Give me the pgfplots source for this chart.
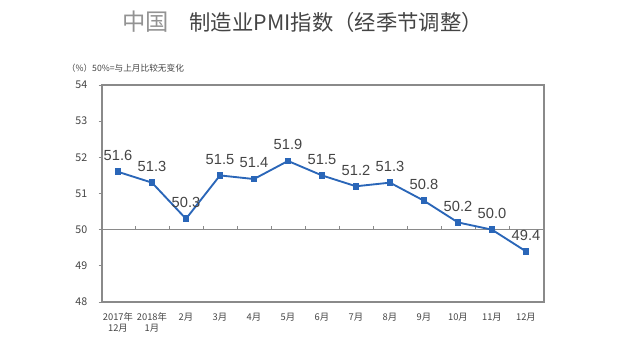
\documentclass[border=0pt]{standalone}
\usepackage{fontspec}
\setmainfont{Liberation Sans}
\newfontfamily\cjk{Noto Sans CJK SC}
\usepackage{pgfplots}
\pgfplotsset{compat=1.18}
\usepackage{pgfplotstable}
\definecolor{pmiblue}{HTML}{2A66B8}
\definecolor{framegray}{HTML}{8A8A8A}
\definecolor{txtgray}{HTML}{444444}
\pgfplotstableread{
x y lab
0 51.6 51.6
1 51.3 51.3
2 50.3 50.3
3 51.5 51.5
4 51.4 51.4
5 51.9 51.9
6 51.5 51.5
7 51.2 51.2
8 51.3 51.3
9 50.8 50.8
10 50.2 50.2
11 50.0 50.0
12 49.4 49.4
}\pmidata
\begin{document}
\begin{tikzpicture}
\path[use as bounding box] (0,0) rectangle (480pt,263.25pt);
\node[anchor=base west, inner sep=0] at (91.5pt,240.5pt)
  {{\cjk\fontsize{17.5}{19}\selectfont\color{gray!85}中国}\hspace{15.5pt}{\cjk\fontsize{16}{18}\selectfont\color{txtgray}制造业PMI指数（经季节调整）}};
\node[anchor=west, inner sep=0] at (50pt,212.25pt)
  {\cjk\fontsize{6.5}{7}\selectfont\color{txtgray}（\%）50\%=与上月比较无变化};
\begin{axis}[
  at={(76.5pt,36.75pt)}, anchor=south west,
  scale only axis, width=331.5pt, height=162.75pt,
  xmin=-0.47, xmax=12.53, ymin=48, ymax=54,
  ytick={48,49,...,54},
  xtick={0,...,12},
  ytick pos=left,
  xticklabels={{2017年\\12月},{2018年\\1月},2月,3月,4月,5月,6月,7月,8月,9月,10月,11月,12月},
  x tick label style={font=\cjk\fontsize{7}{8.5}\selectfont\color{txtgray}, align=center, anchor=north, yshift=-2pt},
  y tick label style={font=\cjk\fontsize{8}{9}\selectfont\color{txtgray}},
  /pgf/number format/assume math mode=true,
  yticklabel style={xshift=-5pt},
  major x tick style={draw=none},
  ytick style={draw=framegray, line width=0.6pt},
  tick align=outside, major tick length=2.5pt,
  axis line style={draw=framegray, line width=0.9pt},
  point meta=explicit symbolic,
  nodes near coords,
  every node near coord/.append style={font=\fontsize{11}{12}\selectfont, text=txtgray, inner sep=0pt, yshift=7.5pt},
  clip=false,
]
\draw[framegray, line width=0.8pt] (axis cs:-0.47,50) -- (axis cs:12.53,50);
\pgfplotsinvokeforeach{0.5,1.5,2.5,3.5,4.5,5.5,6.5,7.5,8.5,9.5,10.5,11.5}{
  \draw[framegray, line width=0.6pt] (axis cs:#1,50) -- ([yshift=3pt]axis cs:#1,50);
}
\addplot[color=pmiblue, line width=1.4pt, mark=square*, mark size=1.8pt, mark options={fill=pmiblue}]
  table[x=x, y=y, meta=lab] {\pmidata};
\end{axis}
\end{tikzpicture}
\end{document}
